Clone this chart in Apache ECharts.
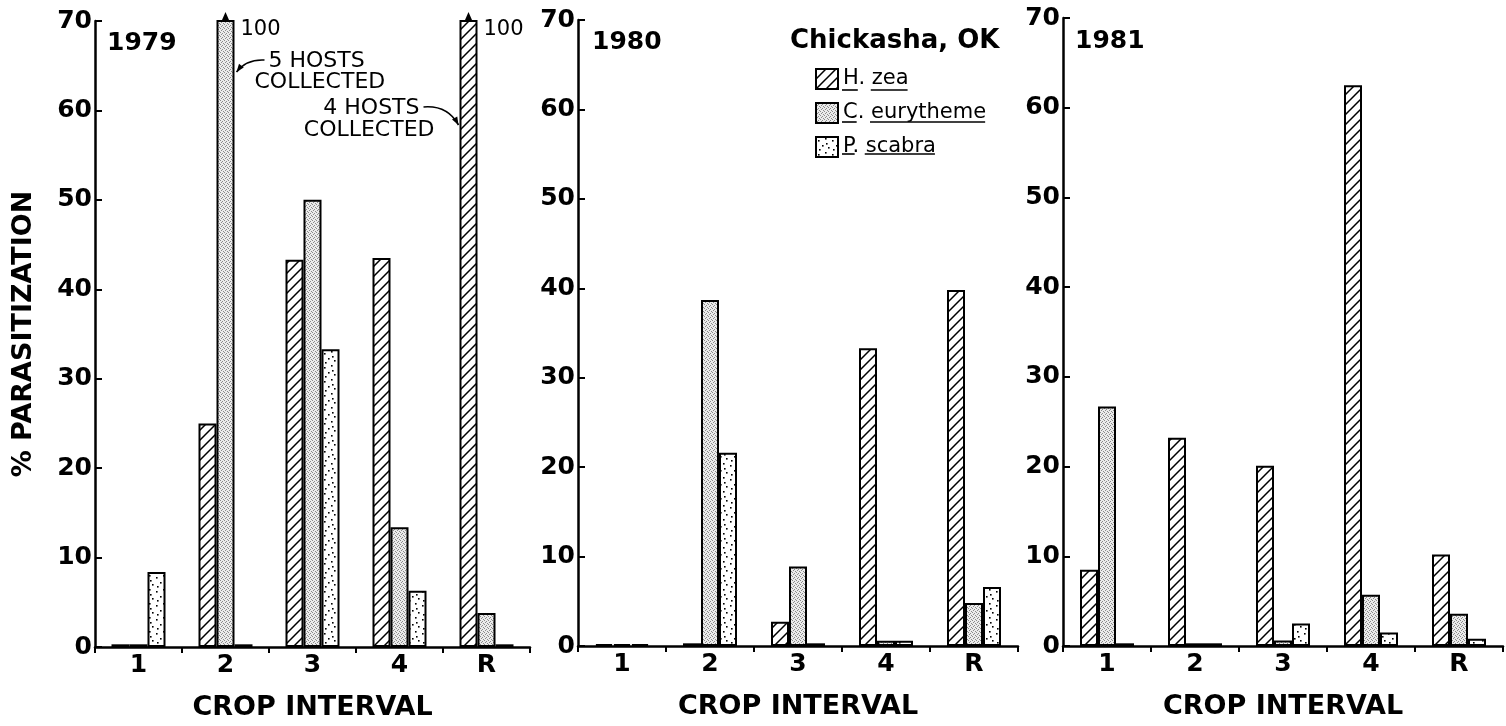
<!DOCTYPE html>
<html><head><meta charset="utf-8">
<script src="https://cdn.jsdelivr.net/npm/echarts@6/dist/echarts.min.js"></script>
<style>html,body{margin:0;padding:0;background:#fff}#c{width:1506px;height:726px}</style>
</head><body><div id="c"></div>
<script>
// ---------- data ----------
const categories = ['1', '2', '3', '4', 'R'];
const years = ['1979', '1980', '1981'];
const seriesNames = ['H. zea', 'C. eurytheme', 'P. scabra'];
const yMin = 0, yMax = 70, yInterval = 10;

const hzea1979  = [0.3, 25.0, 43.3, 43.5, 100];
const ceury1979 = [0.3, 100, 50.0, 13.4, 3.8];
const pscab1979 = [8.4, 0.3, 33.3, 6.3, 0.3];

const hzea1980  = [0.2, 0.3, 2.7, 33.3, 39.8];
const ceury1980 = [0.2, 38.7, 8.9, 0.6, 4.8];
const pscab1980 = [0.2, 21.6, 0.3, 0.6, 6.6];

const hzea1981  = [8.5, 23.2, 20.1, 62.5, 10.2];
const ceury1981 = [26.7, 0.3, 0.6, 5.7, 3.6];
const pscab1981 = [0.3, 0.3, 2.5, 1.5, 0.8];

const panelData = [
  [hzea1979, ceury1979, pscab1979],
  [hzea1980, ceury1980, pscab1980],
  [hzea1981, ceury1981, pscab1981]
];

// ---------- patterns ----------
function makeHatch() {
  const c = document.createElement('canvas'); c.width = 10; c.height = 10;
  const g = c.getContext('2d');
  g.fillStyle = '#fff'; g.fillRect(0, 0, 10, 10);
  g.strokeStyle = '#000'; g.lineWidth = 1.5;
  g.beginPath();
  g.moveTo(-1, 11); g.lineTo(11, -1);
  g.moveTo(-1, 1); g.lineTo(1, -1);
  g.moveTo(9, 11); g.lineTo(11, 9);
  g.stroke();
  return c;
}
function makeGray() {
  const c = document.createElement('canvas'); c.width = 4; c.height = 4;
  const g = c.getContext('2d');
  g.fillStyle = '#ebebeb'; g.fillRect(0, 0, 4, 4);
  g.fillStyle = '#8a8a8a';
  [[0,0],[2,1],[1,2],[3,3]].forEach(p => g.fillRect(p[0], p[1], 1, 1));
  return c;
}
function makeDots() {
  const c = document.createElement('canvas'); c.width = 14; c.height = 14;
  const g = c.getContext('2d');
  g.fillStyle = '#fff'; g.fillRect(0, 0, 14, 14);
  g.fillStyle = '#000';
  [[2,3],[9,1],[6,8],[12,10],[3,12],[10,6]].forEach(p => g.fillRect(p[0], p[1], 1.6, 1.6));
  return c;
}
const fills = [makeHatch(), makeGray(), makeDots()];

// ---------- layout ----------
const FONT = '"DejaVu Sans", "Liberation Sans", sans-serif';
const grids = [
  { left: 95,   right: 976, top: 21, bottom: 78 },
  { left: 578,  right: 488, top: 20, bottom: 80 },
  { left: 1063, right: 3,   top: 18, bottom: 80 }
];
const BW = 18;

const xAxes = grids.map((g, i) => ({
  type: 'category', gridIndex: i, data: categories,
  name: 'CROP INTERVAL', nameLocation: 'middle', nameGap: 47,
  nameTextStyle: { fontSize: 27, fontWeight: 'bold', color: '#000', fontFamily: FONT },
  axisLine: { lineStyle: { color: '#000', width: 2.5 } },
  axisTick: { show: true, interval: 0, length: 6, lineStyle: { color: '#000', width: 2 } },
  axisLabel: { interval: 0, fontSize: 25, fontWeight: 'bold', color: '#000', fontFamily: FONT, margin: 6 },
  splitLine: { show: false }
}));
const yAxes = grids.map((g, i) => ({
  type: 'value', gridIndex: i, min: yMin, max: yMax, interval: yInterval,
  name: i === 0 ? '% PARASITIZATION' : '', nameLocation: 'middle', nameGap: 58,
  nameTextStyle: { fontSize: 27, fontWeight: 'bold', color: '#000', fontFamily: FONT },
  axisLine: { show: true, lineStyle: { color: '#000', width: 2.5 } },
  axisTick: { show: true, inside: true, length: 7, lineStyle: { color: '#000', width: 2 } },
  axisLabel: { fontSize: 25, fontWeight: 'bold', color: '#000', fontFamily: FONT, margin: 3 },
  splitLine: { show: false }
}));

const series = [];
panelData.forEach((pd, p) => {
  pd.forEach((vals, s) => {
    series.push({
      type: 'bar', name: seriesNames[s], xAxisIndex: p, yAxisIndex: p,
      data: vals, barWidth: BW, barGap: '0%', clip: true, silent: true,
      itemStyle: { color: { image: fills[s], repeat: 'repeat' }, borderColor: '#000', borderWidth: 2 }
    });
  });
});

const LEG_LEFT = 815, LEG_TOP = 68, LEG_ICON_W = 22, LEG_ICON_H = 20, LEG_GAP = 12, LEG_FS = 21;

const chart = echarts.init(document.getElementById('c'), null, { renderer: 'canvas' });
chart.setOption({
  animation: false,
  backgroundColor: '#fff',
  grid: grids,
  xAxis: xAxes,
  yAxis: yAxes,
  legend: {
    data: seriesNames, orient: 'vertical', left: LEG_LEFT, top: LEG_TOP, padding: 0,
    itemWidth: LEG_ICON_W, itemHeight: LEG_ICON_H, itemGap: LEG_GAP, icon: 'rect', selectedMode: false,
    textStyle: { fontSize: LEG_FS, color: '#000', fontFamily: FONT }
  },
  series: series
});

// ---------- annotations ----------
const px = (p, cat, val) => chart.convertToPixel({ xAxisIndex: p, yAxisIndex: p }, [cat, val]);
const g = [];
function txt(x, y, text, size, weight, align) {
  g.push({ type: 'text', x: x, y: y, silent: true,
    style: { text: text, fontSize: size, fontWeight: weight || 'normal', fontFamily: FONT, fill: '#000',
      textAlign: align || 'left', textVerticalAlign: 'middle' } });
}
// year labels and site title
const yearPos = [[107, 43], [592, 42], [1075, 41]];
years.forEach((y, i) => txt(yearPos[i][0], yearPos[i][1], y, 25, 'bold'));
txt(790, 41, 'Chickasha, OK', 26, 'bold');

// legend underlines
const mctx = document.createElement('canvas').getContext('2d');
mctx.font = LEG_FS + 'px "DejaVu Sans"';
seriesNames.forEach((name, i) => {
  const x0 = LEG_LEFT + LEG_ICON_W + 5;
  const yc = LEG_TOP + LEG_ICON_H / 2 + i * (LEG_ICON_H + LEG_GAP) + 12;
  const parts = name.split('. ');
  const w1 = mctx.measureText(parts[0]).width;
  const w2 = mctx.measureText(parts[0] + '. ').width;
  const w3 = mctx.measureText(name).width;
  g.push({ type: 'line', silent: true, shape: { x1: x0, y1: yc, x2: x0 + w1, y2: yc }, style: { stroke: '#000', lineWidth: 1.6 } });
  g.push({ type: 'line', silent: true, shape: { x1: x0 + w2, y1: yc, x2: x0 + w3, y2: yc }, style: { stroke: '#000', lineWidth: 1.6 } });
});

// off-scale bars (value 100) in 1979: arrows + "100"
function offScale(p, catIdx, s) {
  const c = px(p, catIdx, yMax);
  const x = c[0] + (s - 1) * BW;
  const yTop = c[1];
  g.push({ type: 'rect', silent: true, shape: { x: x - BW / 2 + 1.5, y: yTop - 3, width: BW - 3, height: 5 }, style: { fill: '#fff' } });
  g.push({ type: 'line', silent: true, shape: { x1: x, y1: yTop + 10, x2: x, y2: yTop - 4 }, style: { stroke: '#000', lineWidth: 2.2 } });
  g.push({ type: 'polygon', silent: true, shape: { points: [[x, yTop - 9], [x - 3.5, yTop - 1], [x + 3.5, yTop - 1]] }, style: { fill: '#000' } });
  txt(x + BW / 2 + 6, yTop + 9, String(panelData[p][s][catIdx]), 21, 'normal');
  return { x: x, left: x - BW / 2, right: x + BW / 2, yTop: yTop };
}
function leader(x1, y1, cx, cy, x2, y2) {
  g.push({ type: 'bezierCurve', silent: true, shape: { x1: x1, y1: y1, x2: x2, y2: y2, cpx1: cx, cpy1: cy }, style: { stroke: '#000', lineWidth: 1.6, fill: null } });
  let dx = x2 - cx, dy = y2 - cy; const L = Math.hypot(dx, dy); dx /= L; dy /= L;
  const bx = x2 - dx * 8, by = y2 - dy * 8;
  g.push({ type: 'polygon', silent: true, shape: { points: [[x2, y2], [bx - dy * 3, by + dx * 3], [bx + dy * 3, by - dx * 3]] }, style: { fill: '#000' } });
}
const b1 = offScale(0, 1, 1);
const b2 = offScale(0, 4, 0);
// 5 HOSTS COLLECTED
txt(b1.right + 34, b1.yTop + 40, '5 HOSTS', 22);
txt(b1.right + 20, b1.yTop + 61, 'COLLECTED', 22);
leader(b1.right + 30, b1.yTop + 39, b1.right + 12, b1.yTop + 38, b1.right + 2, b1.yTop + 51);
// 4 HOSTS COLLECTED
txt(b2.left - 40, b2.yTop + 87, '4 HOSTS', 22, 'normal', 'right');
txt(b2.left - 25, b2.yTop + 109, 'COLLECTED', 22, 'normal', 'right');
leader(b2.left - 36, b2.yTop + 86, b2.left - 12, b2.yTop + 84, b2.left - 1, b2.yTop + 104);

chart.setOption({ graphic: g });
</script></body></html>
